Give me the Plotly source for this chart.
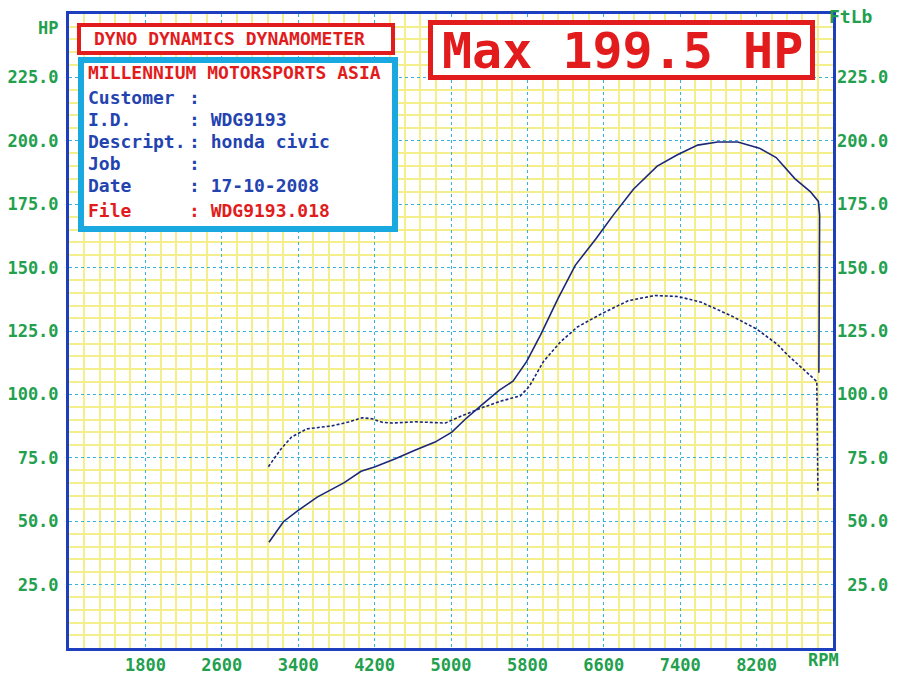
import plotly.graph_objects as go

# ---- data read from the dyno sheet ----
power_rpm = [3094, 3245, 3386, 3599, 3882, 4058, 4199, 4411, 4622, 4833, 5009, 5152,
             5329, 5507, 5649, 5793, 5938, 6120, 6301, 6516, 6695, 6910, 7159, 7371,
             7583, 7793, 8003, 8229, 8405, 8600, 8762, 8847, 8860, 8852]
power_hp = [41.7, 49.8, 53.9, 59.5, 65.2, 69.7, 71.4, 74.5, 78.0, 81.2, 85.1, 90.3,
            96.1, 101.7, 105.2, 113.0, 123.5, 137.8, 150.9, 161.3, 170.5, 180.9, 190.0, 194.5,
            198.3, 199.5, 199.5, 197.1, 193.4, 185.1, 180.0, 176.1, 170.8, 108.5]

torque_rpm = [3088, 3224, 3331, 3490, 3752, 3928, 4069, 4173, 4277, 4382, 4628, 4942,
              5117, 5329, 5526, 5726, 5819, 5967, 6146, 6324, 6571, 6853, 7133, 7379,
              7622, 7934, 8204, 8418, 8520, 8657, 8830, 8842]
torque_ftlb = [71.5, 78.7, 83.2, 86.4, 87.6, 89.1, 90.8, 90.4, 89.0, 88.7, 89.2, 88.7,
               91.6, 94.8, 97.4, 99.4, 103.1, 112.9, 120.7, 126.6, 131.7, 136.9, 139.0, 138.6,
               136.3, 131.0, 125.7, 119.7, 115.7, 111.1, 105.1, 61.7]

rpm_ticks = [1800, 2600, 3400, 4200, 5000, 5800, 6600, 7400, 8200]
value_ticks = [25, 50, 75, 100, 125, 150, 175, 200, 225]

info_labels = ["Customer", "I.D.", "Descript.", "Job", "Date", "File"]
info_values = ["", "WDG9193", "honda civic", "", "17-10-2008", "WDG9193.018"]

# ---- styling / geometry (page pixel coordinates) ----
W, H = 900, 677
L, R, T, B = 69, 833, 14, 648   # plot area in page pixels
GREEN = "#22a04e"
BLUE_FRAME = "#1d3fbf"
RED = "#e21c1c"
TEXT_BLUE = "#2343b0"
CYAN = "#1aa8e0"
LINE = "#1b2878"
YELLOW = "#f4ef8c"
MAJOR = "#36b2dc"
MONO = "DejaVu Sans Mono"


def fx(px):
    return (px - L) / (R - L)


def fy(py):
    return (B - py) / (B - T)


x_minor = [1000 + 160 * i for i in range(51) if (160 * i) % 800 != 0]
y_minor = [5 * i for i in range(51) if (5 * i) % 25 != 0]

fig = go.Figure()
fig.add_trace(go.Scatter(x=power_rpm, y=power_hp, mode="lines",
                         line=dict(color=LINE, width=1.6), name="Power", yaxis="y"))
fig.add_trace(go.Scatter(x=torque_rpm, y=torque_ftlb, mode="lines",
                         line=dict(color=LINE, width=1.6, dash="3px,2px"),
                         name="Torque", yaxis="y2"))

tickfont = dict(family=MONO, size=17, color=GREEN, weight="bold")
minor_grid = dict(showgrid=True, gridcolor=YELLOW, gridwidth=2, griddash="solid")

fig.update_layout(
    width=W, height=H,
    margin=dict(l=L, r=W - R, t=T, b=H - B, pad=0, autoexpand=False),
    paper_bgcolor="white", plot_bgcolor="white",
    showlegend=False,
    xaxis=dict(
        range=[1000, 9000], tickmode="array", tickvals=rpm_ticks,
        ticktext=[str(v) for v in rpm_ticks], tickfont=tickfont,
        showgrid=True, gridcolor=MAJOR, gridwidth=1.2, griddash="dot",
        minor=dict(tickmode="array", tickvals=x_minor, **minor_grid),
        showline=True, linecolor=BLUE_FRAME, linewidth=3, mirror=True,
        zeroline=False, ticks="", ticklabelstandoff=0, automargin=False,
    ),
    yaxis=dict(
        range=[0, 250], tickmode="array", tickvals=value_ticks,
        ticktext=[f"{v:.1f}" for v in value_ticks], tickfont=tickfont,
        showgrid=True, gridcolor=MAJOR, gridwidth=1.2, griddash="dot",
        minor=dict(tickmode="array", tickvals=y_minor, **minor_grid),
        showline=True, linecolor=BLUE_FRAME, linewidth=3, mirror=True,
        zeroline=False, ticks="", ticklabelstandoff=4, automargin=False,
    ),
    yaxis2=dict(
        range=[0, 250], overlaying="y", side="right", tickmode="array",
        tickvals=value_ticks,
        ticktext=[f"{v:5.1f}".replace(" ", "\u00a0") for v in value_ticks],
        tickfont=tickfont, showgrid=False, zeroline=False, ticks="",
        showline=False, ticklabelstandoff=3, automargin=False,
    ),
)

# ---- boxes ----
shapes = [
    dict(type="rect", xref="paper", yref="paper", x0=fx(79), x1=fx(393), y0=fy(53), y1=fy(25),
         line=dict(color=RED, width=4), fillcolor="white", layer="above"),
    dict(type="rect", xref="paper", yref="paper", x0=fx(81), x1=fx(395), y0=fy(229), y1=fy(60),
         line=dict(color=CYAN, width=6), fillcolor="white", layer="above"),
    dict(type="rect", xref="paper", yref="paper", x0=fx(430.5), x1=fx(812.5), y0=fy(77.5), y1=fy(22.5),
         line=dict(color=RED, width=5), fillcolor="white", layer="above"),
]
fig.update_layout(shapes=shapes)

boxfont = dict(family=MONO, size=18, weight="bold")
ann = []
ann.append(dict(text="DYNO DYNAMICS DYNAMOMETER", x=fx(92), y=fy(39), xanchor="left", yanchor="middle",
                font=dict(**boxfont, color=RED)))
ann.append(dict(text="MILLENNIUM MOTORSPORTS ASIA", x=fx(86), y=fy(72), xanchor="left", yanchor="middle",
                font=dict(**boxfont, color=RED)))
row_y = [98, 120, 141, 163, 185, 211]
for lab, val, yy in zip(info_labels, info_values, row_y):
    col = RED if lab == "File" else TEXT_BLUE
    ann.append(dict(text=lab, x=fx(86), y=fy(yy), xanchor="left", yanchor="middle",
                    font=dict(**boxfont, color=col)))
    ann.append(dict(text=(": " + val) if val else ":", x=fx(187), y=fy(yy), xanchor="left",
                    yanchor="middle", font=dict(**boxfont, color=col)))
ann.append(dict(text="Max 199.5 HP", x=fx(622), y=fy(51), xanchor="center", yanchor="middle",
                font=dict(family=MONO, size=50, weight="bold", color=RED)))
ann.append(dict(text="HP", x=fx(48), y=fy(28), xanchor="center", yanchor="middle",
                font=dict(family=MONO, size=17, weight="bold", color=GREEN)))
ann.append(dict(text="FtLb", x=fx(851), y=fy(17), xanchor="center", yanchor="middle",
                font=dict(family=MONO, size=18, weight="bold", color=GREEN)))
ann.append(dict(text="RPM", x=fx(823), y=fy(660), xanchor="center", yanchor="middle",
                font=dict(family=MONO, size=17, weight="bold", color=GREEN)))
for a in ann:
    a.update(xref="paper", yref="paper", showarrow=False)
fig.update_layout(annotations=ann)

fig.write_html(
    "out.html",
    config={"displayModeBar": False},
    post_script="document.body.style.margin='0';document.body.style.overflow='hidden';",
)
